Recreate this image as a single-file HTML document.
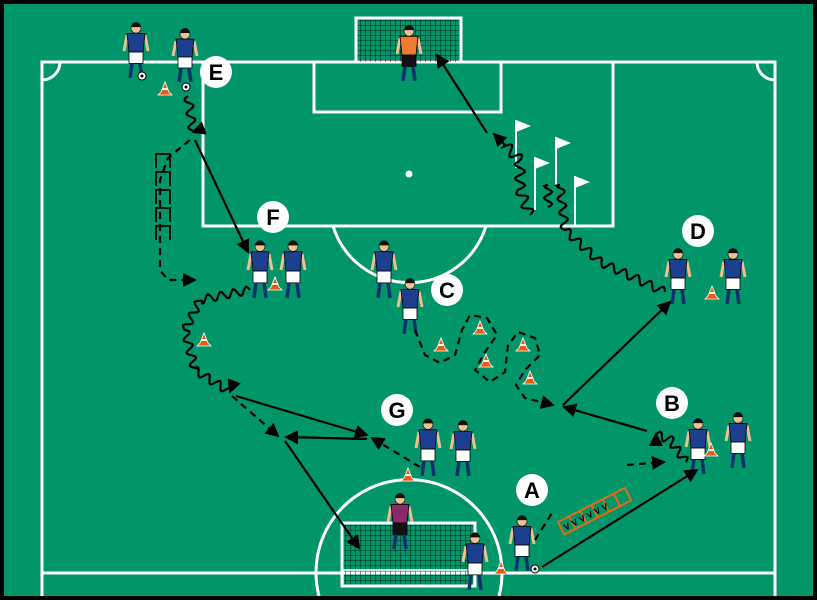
<!DOCTYPE html>
<html><head><meta charset="utf-8"><style>
html,body{margin:0;padding:0;background:#000;width:817px;height:600px;overflow:hidden}
svg{display:block}
text{font-family:"Liberation Sans",sans-serif;font-weight:bold}
</style></head><body>
<svg id="s" width="817" height="600" viewBox="0 0 817 600" xmlns="http://www.w3.org/2000/svg">
<defs>
<marker id="ah2" markerWidth="14" markerHeight="14" refX="12" refY="7" orient="auto" markerUnits="userSpaceOnUse">
<path d="M0,0 L14,7 L0,14 z" fill="#000"/></marker>
<pattern id="net" width="5" height="5" patternUnits="userSpaceOnUse"><path d="M0,0 H5 M0,0 V5" stroke="#000" stroke-width="0.8"/></pattern>
</defs>
<rect x="4" y="4" width="809" height="592" fill="#00966a"/>
<g fill="none" stroke="#fff" stroke-width="3">
<path d="M42,596 V62 H775 V596"/>
<path d="M42,573 H775"/>
<rect x="203" y="62" width="410" height="164"/>
<rect x="314" y="62" width="187" height="50"/>
<path d="M333,226 A80,80 0 0 0 486,226"/>
<path d="M319,596 A93,93 0 1 1 499,596"/>
<path d="M42,80 A18,18 0 0 0 60,62"/>
<path d="M757,62 A18,18 0 0 0 775,80"/>
</g>
<circle cx="409" cy="174" r="3.5" fill="#fff"/>
<rect x="357" y="18" width="103" height="44" fill="url(#net)"/>
<path d="M356,62 V18 H461 V62" fill="none" stroke="#fff" stroke-width="3"/>
<rect x="342" y="523" width="133" height="63" fill="url(#net)"/>
<rect x="342" y="523" width="133" height="63" fill="none" stroke="#fff" stroke-width="3"/>
<rect x="343" y="570" width="131" height="16" fill="none" stroke="#fff" stroke-width="1.5"/>
<g id="fg"></g>
<g transform="translate(558,522) rotate(-27)" fill="none" stroke="#e86a10" stroke-width="2">
<rect x="0" y="0" width="75" height="14"/>
<path d="M12.5,0V14M25,0V14M37.5,0V14M50,0V14M62.5,0V14"/>
<text x="3" y="11" fill="#000" stroke="none" font-size="9">V V V V V V</text>
</g>
<g fill="#fff"><circle cx="216" cy="72" r="16"/><circle cx="273" cy="217" r="16"/><circle cx="447" cy="290" r="16"/><circle cx="698" cy="231" r="16"/><circle cx="397" cy="410" r="16"/><circle cx="672" cy="403" r="16"/><circle cx="532" cy="490" r="16"/></g>
<g font-size="22" text-anchor="middle" fill="#000">
<text x="216" y="80">E</text><text x="273" y="225">F</text><text x="447" y="298">C</text><text x="698" y="239">D</text><text x="397" y="418">G</text><text x="672" y="411">B</text><text x="532" y="498">A</text></g>
<rect x="0" y="596" width="817" height="4" fill="#000"/>
</svg>
<script>
var NS="http://www.w3.org/2000/svg",fg=document.getElementById('fg');
function el(t,a,p){var e=document.createElementNS(NS,t);for(var k in a)e.setAttribute(k,a[k]);(p||fg).appendChild(e);return e;}
function line(pts,dash,arrow,w){var d="M"+pts.map(function(p){return p.join(",")}).join(" L");var a={d:d,fill:"none",stroke:"#000","stroke-width":w||2.2};if(dash)a["stroke-dasharray"]="7,5";if(arrow)a["marker-end"]="url(#ah2)";el("path",a);}
function wavy(pts,amp,lam,arrow){var out=[],s=0;for(var i=0;i<pts.length-1;i++){var a=pts[i],b=pts[i+1],dx=b[0]-a[0],dy=b[1]-a[1],L=Math.hypot(dx,dy),nx=-dy/L,ny=dx/L;for(var t=0;t<L;t+=1.5){var o=amp*Math.sin(2*Math.PI*(s+t)/lam);out.push([(a[0]+dx*t/L+nx*o).toFixed(1),(a[1]+dy*t/L+ny*o).toFixed(1)]);}s+=L;}out.push(pts[pts.length-1]);line(out,false,arrow);}
function cone(x,y){el("path",{d:"M"+(x-7)+","+(y+4)+" L"+(x+7)+","+(y+4)+" L"+(x+4)+","+(y+1)+" L"+x+","+(y-9)+" L"+(x-4)+","+(y+1)+"z",fill:"#ee5a10",stroke:"#fff","stroke-width":0.8});el("path",{d:"M"+(x-3)+","+(y-2)+"H"+(x+3),stroke:"#fff","stroke-width":2});}
function player(x,y,h,shirt,shorts){shirt=shirt||"#1c3f8f";shorts=shorts||"#fff";var k=h/56;
function Y(v){return y+v*k}
el("line",{x1:x-9,y1:Y(13),x2:x-12,y2:Y(28),stroke:"#f0c090","stroke-width":3});
el("line",{x1:x+9,y1:Y(13),x2:x+12,y2:Y(28),stroke:"#f0c090","stroke-width":3});
el("path",{d:"M"+(x-9)+","+Y(11)+" L"+(x+9)+","+Y(11)+" L"+(x+7)+","+Y(29)+" L"+(x-7)+","+Y(29)+"z",fill:shirt,stroke:"#000","stroke-width":0.8});
el("rect",{x:x-7,y:Y(29),width:14,height:11*k,fill:shorts,stroke:"#000","stroke-width":0.8});
el("line",{x1:x-4,y1:Y(40),x2:x-6,y2:Y(54),stroke:"#13306e","stroke-width":3.5});
el("line",{x1:x+4,y1:Y(40),x2:x+6,y2:Y(54),stroke:"#13306e","stroke-width":3.5});
el("circle",{cx:x,cy:Y(6),r:5,fill:"#f0c090",stroke:"#000","stroke-width":0.6});
el("path",{d:"M"+(x-5)+","+Y(5)+" A5,5 0 0 1 "+(x+5)+","+Y(5)+"z",fill:"#111"});}
function ball(x,y){el("circle",{cx:x,cy:y,r:4,fill:"#fff",stroke:"#000"});el("circle",{cx:x,cy:y,r:1.5,fill:"#000"});}
function flag(x,y1,y2){el("line",{x1:x,y1:y1,x2:x,y2:y2,stroke:"#fff","stroke-width":2});el("path",{d:"M"+x+","+y1+" L"+(x+15)+","+(y1+6)+" L"+x+","+(y1+12)+"z",fill:"#fff"});}
flag(516,120,168);flag(556,137,187);flag(535,157,210);flag(575,176,226);
player(136,22,58);player(185,28,56);ball(142,76);ball(186,87);
player(409,25,58,"#f07a30","#111");
player(260,240,60);player(293,240,60);
player(384,240,60);player(410,278,58);
player(678,248,58);player(733,248,58);
player(428,418,60);player(463,420,58);
player(698,418,58);player(738,412,58);
player(522,515,58);ball(535,569);
player(400,493,58,"#8a2a6a","#111");
player(475,532,60);
[[165,91],[275,286],[204,342],[441,347],[480,330],[486,363],[523,347],[530,380],[408,477],[712,295],[711,452],[501,570]].forEach(function(c){cone(c[0],c[1])});
wavy([[188,96],[193,132]],4,14,true);
line([[195,140],[248,252]],false,true);
line([[487,133],[437,55]],false,true);
line([[236,396],[367,435]],false,true);
line([[367,439],[286,437]],false,true);
line([[285,441],[359,548]],false,true);
line([[563,405],[670,302]],false,true);
line([[647,431],[564,407]],false,true);
line([[542,567],[697,470]],false,true);
line([[232,396],[278,436]],true,true);
line([[420,467],[372,438]],true,true);
line([[627,465],[664,462]],true,true);
line([[535,540],[552,513]],true,false);
line([[190,140],[168,158],[160,180],[160,270],[168,280],[195,280]],true,true);
for(var i=0;i<5;i++){el("path",{d:"M156,"+(168+i*18)+" V"+(154+i*18)+" H170 V"+(168+i*18),fill:"none",stroke:"#000","stroke-width":1.8});}
wavy([[250,290],[200,300],[185,330],[195,370],[230,392]],4,13,true);
wavy([[530,215],[520,190],[520,160],[505,145]],5,14,false);
line([[505,145],[494,134]],false,true);
wavy([[548,207],[548,185]],4,12,false);
wavy([[665,292],[600,262],[565,230],[560,185]],4,14,false);
wavy([[686,462],[670,440],[656,434]],4,12,true);
line([[415,330],[425,355],[440,363],[455,355],[462,330],[470,315],[487,318],[497,335],[485,352],[475,370],[490,382],[505,372],[508,345],[518,332],[535,338],[540,355],[525,370],[516,385],[525,398],[553,405]],true,true);
</script>
</body></html>
